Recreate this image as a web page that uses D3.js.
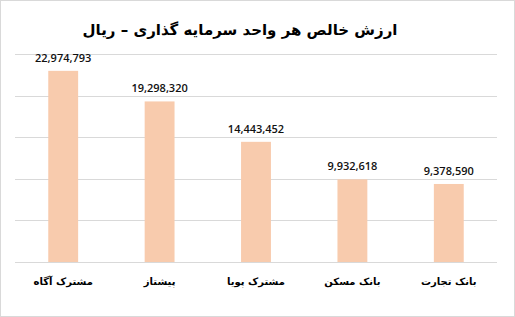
<!DOCTYPE html>
<html>
<head>
<meta charset="utf-8">
<script src="https://cdn.jsdelivr.net/npm/d3@7"></script>
<style>
  body { margin: 0; background: #fff; }
  svg { display: block; }
</style>
</head>
<body>
<script>
// chart size, same as the screenshot
const WIDTH = 515, HEIGHT = 317;
const margin = { top: 54, right: 18, bottom: 55, left: 15 };

// data
const categories = ["مشترک آگاه", "پیشتاز", "مشترک پویا", "بانک مسکن", "بانک تجارت"];
const values = [22974793, 19298320, 14443452, 9932618, 9378590];
const yTicks = [0, 5000000, 10000000, 15000000, 20000000, 25000000];
const title = "ارزش خالص هر واحد سرمایه گذاری – ریال";

const innerW = WIDTH - margin.left - margin.right;
const innerH = HEIGHT - margin.top - margin.bottom;

const svg = d3.select("body").append("svg")
    .attr("width", WIDTH)
    .attr("height", HEIGHT);

// light frame round the chart
svg.append("rect")
    .attr("x", 0.5).attr("y", 0.5)
    .attr("width", WIDTH - 1).attr("height", HEIGHT - 1)
    .attr("fill", "#fff")
    .attr("stroke", "#d9d9d9");

svg.append("text")
    .attr("x", 240)
    .attr("y", 30)
    .attr("text-anchor", "middle")
    .attr("dominant-baseline", "middle")
    .attr("direction", "rtl")
    .style("font-family", "'DejaVu Sans', sans-serif")
    .style("font-weight", "bold")
    .style("font-size", "15px")
    .text(title);

const g = svg.append("g")
    .attr("transform", `translate(${margin.left},${margin.top})`);

const x = d3.scaleBand()
    .domain(categories)
    .range([0, innerW])
    .paddingInner(0.69)
    .paddingOuter(0.345);

const y = d3.scaleLinear()
    .domain([0, 25000000])
    .range([innerH, 0]);

// gridlines
g.append("g")
    .selectAll("line")
    .data(yTicks)
    .join("line")
    .attr("x1", 0)
    .attr("x2", innerW)
    .attr("y1", d => Math.round(y(d)) + 0.5)
    .attr("y2", d => Math.round(y(d)) + 0.5)
    .attr("stroke", "#d9d9d9")
    .attr("stroke-width", 1);

// bars
g.append("g")
    .selectAll("rect")
    .data(values)
    .join("rect")
    .attr("x", (d, i) => x(categories[i]))
    .attr("y", d => y(d))
    .attr("width", x.bandwidth())
    .attr("height", d => innerH - y(d))
    .attr("fill", "#f8cbad");

// value labels
g.append("g")
    .selectAll("text")
    .data(values)
    .join("text")
    .attr("x", (d, i) => x(categories[i]) + x.bandwidth() / 2)
    .attr("y", d => y(d) - 9)
    .attr("text-anchor", "middle")
    .style("font-family", "'Open Sans', sans-serif")
    .style("font-size", "11px")
    .style("font-weight", "600")
    .attr("fill", "#111")
    .text(d => d3.format(",")(d));

// category labels
const xAxis = d3.axisBottom(x).tickSize(0).tickPadding(16);
g.append("g")
    .attr("transform", `translate(0,${innerH})`)
    .call(xAxis)
    .call(a => a.select(".domain").remove())
    .selectAll("text")
    .attr("direction", "rtl")
    .style("font-family", "'DejaVu Sans', sans-serif")
    .style("font-weight", "bold")
    .style("font-size", "10px")
    .attr("fill", "#000");
</script>
</body>
</html>
